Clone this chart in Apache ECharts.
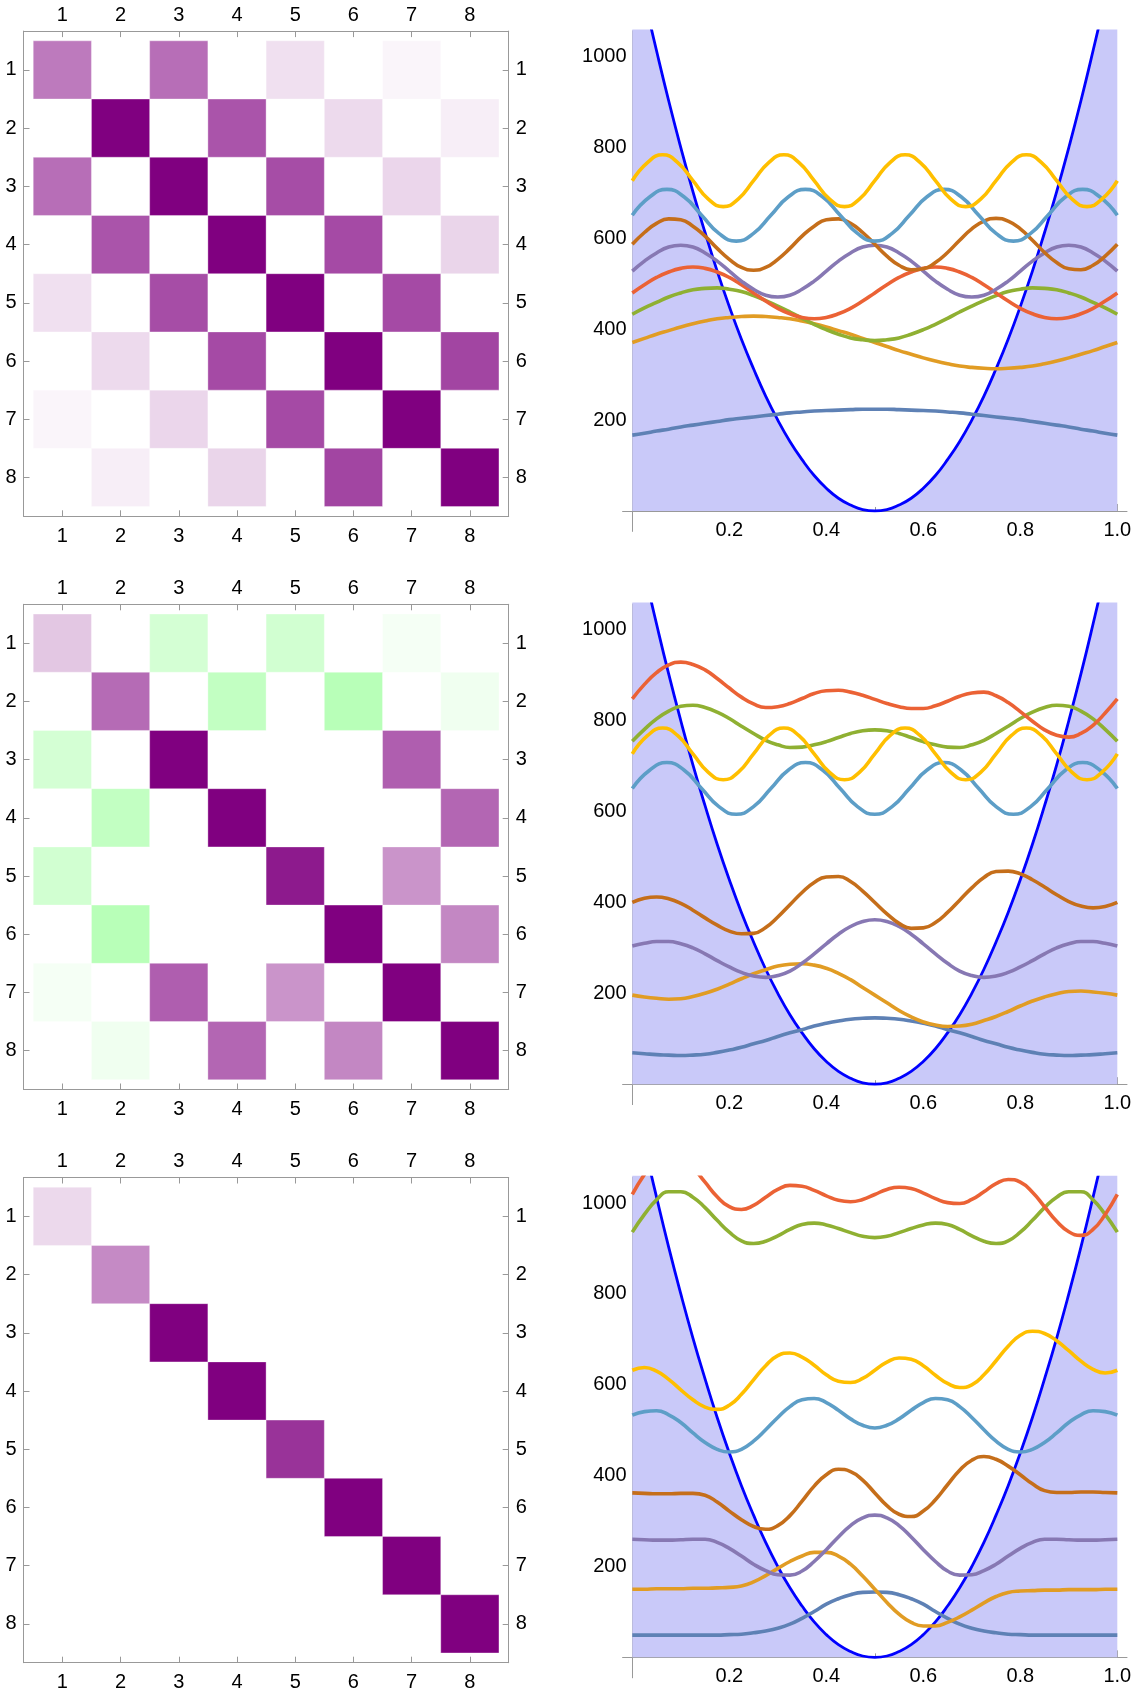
<!DOCTYPE html>
<html>
<head>
<meta charset="utf-8">
<title>Box basis and eigenstates</title>
<script src="https://cdn.jsdelivr.net/npm/echarts@6.0.0/dist/echarts.min.js"></script>
<style>
  html, body { margin: 0; padding: 0; background: #fff; }
  #main { width: 1137px; height: 1693px; }
</style>
</head>
<body>
<div id="main"></div>
<script>
// positions along the box where the curves were read
var xGrid = [0,0.025,0.05,0.075,0.1,0.125,0.15,0.175,0.2,0.225,0.25,0.275,0.3,0.325,0.35,0.375,0.4,0.425,0.45,0.475,0.5,
             0.525,0.55,0.575,0.6,0.625,0.65,0.675,0.7,0.725,0.75,0.775,0.8,0.825,0.85,0.875,0.9,0.925,0.95,0.975,1];
// finer positions for the two fastest box states
var xYellow = [0,0.03125,0.0625,0.09375,0.125,0.15625,0.1875,0.21875,0.25,0.28125,0.3125,0.34375,0.375,0.40625,0.4375,0.46875,0.5,
               0.53125,0.5625,0.59375,0.625,0.65625,0.6875,0.71875,0.75,0.78125,0.8125,0.84375,0.875,0.90625,0.9375,0.96875,1];
var xLightBlue = [0,0.0357,0.0714,0.1071,0.1429,0.1786,0.2143,0.25,0.2857,0.3214,0.3571,0.3929,0.4286,0.4643,0.5,
                  0.5357,0.5714,0.6071,0.6429,0.6786,0.7143,0.75,0.7857,0.8214,0.8571,0.8929,0.9286,0.9643,1];

// the well
var potential = [1250,1128,1013,903,800,703,613,528,450,378,313,253,200,153,113,78,50,28,13,3,0,
                 3,13,28,50,78,113,153,200,253,313,378,450,528,613,703,800,903,1013,1128,1250];

// top row curves
var blueA = [167,171,176,180,185,189,193,197,201,204,207,210,213,216,218,220,221,222,223,224,224,224,223,222,221,220,218,216,213,210,207,204,201,197,193,189,185,180,176,171,167];
var orangeA = [371,380,389,397,405,412,418,423,426,428,429,428,426,423,418,412,405,397,389,380,371,362,353,345,337,330,324,319,316,314,313,314,316,319,324,330,337,345,353,362,371];
var greenA = [433,447,459,471,480,487,490,491,488,483,474,463,451,438,424,411,399,389,381,377,375,377,381,389,399,411,424,438,451,463,474,483,488,491,490,487,480,471,459,447,433];
var redA = [480,498,514,526,534,537,534,526,514,498,480,462,446,434,426,423,426,434,446,462,480,498,514,526,534,537,534,526,514,498,480,462,446,434,426,423,426,434,446,462,480];
var purpleA = [528,550,568,581,585,581,568,550,528,506,488,475,471,475,488,506,528,550,568,581,585,581,568,550,528,506,488,475,471,475,488,506,528,550,568,581,585,581,568,550,528];
var brownA = [587,613,633,643,641,627,605,578,554,536,530,536,554,578,605,627,641,643,633,613,587,561,541,531,533,547,569,596,621,638,644,638,621,596,569,547,533,531,541,561,587];
var lightBlueA = [651,691,708,691,651,611,594,611,651,691,708,691,651,611,594,611,651,691,708,691,651,611,594,611,651,691,708,691,651];
var yellowA = [727,767,784,767,727,687,670,687,727,767,784,767,727,687,670,687,727,767,784,767,727,687,670,687,727,767,784,767,727,687,670,687,727];

// middle row curves (light blue and yellow are the same as the top row)
var blueB = [69,67,65,64,63,64,66,70,75,81,89,96,105,113,120,128,134,139,143,145,146,145,143,139,134,128,120,113,105,96,89,81,75,70,66,64,63,64,65,67,69];
var orangeB = [196,192,189,187,188,193,200,209,220,232,243,252,260,264,265,262,255,244,230,213,196,179,162,148,137,130,127,128,132,140,149,160,172,183,192,199,204,205,203,200,196];
var greenB = [755,781,804,821,832,834,829,819,805,788,772,757,747,741,742,747,754,763,772,778,780,778,772,763,754,747,742,741,747,757,772,788,805,819,829,834,832,821,804,781,755];
var redB = [848,880,906,923,929,924,912,893,872,852,837,829,831,838,849,860,866,867,863,856,847,838,831,827,827,833,843,854,861,863,855,840,820,799,780,768,764,772,790,817,848];
var purpleB = [304,310,314,314,309,300,287,272,258,246,238,235,239,249,266,287,309,330,347,358,362,358,347,330,309,287,266,249,239,235,238,246,258,272,287,300,309,314,314,310,304];
var brownB = [400,409,412,408,398,383,366,350,337,331,332,345,368,395,422,444,456,457,446,425,400,375,354,343,344,356,378,405,432,455,468,469,463,450,434,417,402,392,388,391,400];

// bottom row curves
var blueC = [49,49,49,49,49,49,49,49,50,51,54,58,64,73,86,101,117,129,138,143,144,143,138,129,117,101,86,73,64,58,54,51,50,49,49,49,49,49,49,49,49];
var orangeC = [150,150,151,151,151,152,152,153,154,157,166,180,196,211,223,231,231,223,205,179,150,121,95,77,69,69,77,89,104,120,134,143,146,147,148,148,149,149,149,150,150];
var greenC = [936,975,1007,1025,1025,1013,990,962,936,917,911,916,928,942,953,956,952,944,935,927,924,927,935,944,952,956,953,942,928,916,911,917,936,962,990,1013,1025,1025,1007,975,936];
var redC = [1019,1063,1096,1109,1101,1078,1046,1014,992,986,995,1013,1030,1039,1037,1028,1016,1006,1003,1008,1019,1030,1035,1032,1022,1010,1001,999,1008,1025,1043,1052,1046,1024,992,960,937,929,942,975,1019];
var purpleC = [260,259,258,258,259,260,260,253,240,223,205,191,182,181,190,211,237,265,290,307,313,307,290,265,237,211,190,181,182,191,205,223,240,253,260,260,259,258,258,259,260];
var brownC = [362,361,360,360,361,361,357,342,322,303,288,282,290,312,344,377,402,414,409,390,362,334,315,310,322,347,380,412,434,442,436,421,402,382,367,363,363,364,364,363,362];
var lightBlueC = [533,541,543,534,517,494,473,458,452,458,476,501,528,552,567,570,561,544,525,511,505,511,525,544,561,570,567,552,528,501,476,458,452,458,473,494,517,534,543,541,533];
var yellowC = [632,638,630,612,589,567,551,546,555,579,611,642,664,670,661,643,622,608,605,614,632,650,659,656,642,621,603,594,600,622,653,685,709,718,713,697,675,652,634,626,632];

// matrices (row by row), negative = green
var matA = [
  [0.52,0,0.57,0,0.12,0,0.04,0],
  [0,1,0,0.67,0,0.145,0,0.066],
  [0.57,0,1,0,0.70,0,0.16,0],
  [0,0.67,0,1,0,0.71,0,0.165],
  [0.12,0,0.70,0,1,0,0.71,0],
  [0,0.145,0,0.71,0,1,0,0.73],
  [0.04,0,0.16,0,0.71,0,1,0],
  [0,0.066,0,0.165,0,0.73,0,1]
];
var matB = [
  [0.22,0,-0.17,0,-0.18,0,-0.04,0],
  [0,0.58,0,-0.24,0,-0.28,0,-0.06],
  [-0.17,0,1,0,0,0,0.63,0],
  [0,-0.24,0,1,0,0,0,0.60],
  [-0.18,0,0,0,0.9,0,0.42,0],
  [0,-0.28,0,0,0,1,0,0.47],
  [-0.04,0,0.63,0,0.42,0,1,0],
  [0,-0.06,0,0.60,0,0.47,0,1]
];
var matC = [
  [0.15,0,0,0,0,0,0,0],
  [0,0.46,0,0,0,0,0,0],
  [0,0,1,0,0,0,0,0],
  [0,0,0,1,0,0,0,0],
  [0,0,0,0,0.8,0,0,0],
  [0,0,0,0,0,1,0,0],
  [0,0,0,0,0,0,1,0],
  [0,0,0,0,0,0,0,1]
];

var matrixTicks = [1,2,3,4,5,6,7,8];
var xMajor = [0.2,0.4,0.6,0.8,1.0];
var xMinor = [0.05,0.1,0.15,0.25,0.3,0.35,0.45,0.5,0.55,0.65,0.7,0.75,0.85,0.9,0.95];
var yMajor = [200,400,600,800,1000];
var yMinor = [50,100,150,250,300,350,450,500,550,650,700,750,850,900,950,1050];

var palette = ['#5e81b5','#e19c24','#8fb032','#eb6235','#8778b3','#c56e1a','#5d9ec7','#ffbf00'];

var panels = [
  {matrix: matA, curves: [[xGrid, blueA], [xGrid, orangeA], [xGrid, greenA], [xGrid, redA],
                          [xGrid, purpleA], [xGrid, brownA], [xLightBlue, lightBlueA], [xYellow, yellowA]]},
  {matrix: matB, curves: [[xGrid, blueB], [xGrid, orangeB], [xGrid, greenB], [xGrid, redB],
                          [xGrid, purpleB], [xGrid, brownB], [xLightBlue, lightBlueA], [xYellow, yellowA]]},
  {matrix: matC, curves: [[xGrid, blueC], [xGrid, orangeC], [xGrid, greenC], [xGrid, redC],
                          [xGrid, purpleC], [xGrid, brownC], [xGrid, lightBlueC], [xGrid, yellowC]]}
];

var ROW = 573.2;
var axisGray = '#999999';
var labelFont = {color: '#000', fontSize: 20, fontFamily: 'Liberation Sans, Arial, sans-serif'};
var matrixMargin = {top: 6, bottom: 10, left: 7, right: 7};

function label(extra) {
    return Object.assign({}, labelFont, extra);
}

function matrixAxis(gi, pos, isY) {
    return {
        gridIndex: gi, type: 'value', position: pos,
        min: 0.333, max: 8.667, inverse: isY,
        axisLine: {onZero: false, lineStyle: {color: axisGray, width: 1}},
        axisTick: {inside: true, length: 6, customValues: matrixTicks, lineStyle: {color: axisGray}},
        axisLabel: label({customValues: matrixTicks, margin: matrixMargin[pos]}),
        splitLine: {show: false}
    };
}

// labels of onZero axes are laid out from the grid edge, hence the negative margins
function plotAxis(gi, isY, major) {
    var ticks = isY ? (major ? yMajor : yMinor) : (major ? xMajor : xMinor);
    return {
        gridIndex: gi, type: 'value', position: isY ? 'left' : 'bottom',
        min: isY ? -45 : -0.02, max: isY ? 1057 : 1.02,
        axisLine: {show: major, onZero: true, lineStyle: {color: axisGray, width: 1}},
        axisTick: {inside: true, length: major ? 7 : 4, customValues: ticks, lineStyle: {color: axisGray}},
        axisLabel: major ? label({
            customValues: ticks, margin: isY ? -4 : -11,
            formatter: function (v) { return isY ? String(v) : v.toFixed(1); }
        }) : {show: false},
        splitLine: {show: false}
    };
}

function renderCell(params, api) {
    var c = api.value(0), r = api.value(1);
    var p0 = api.coord([c - 0.5, r - 0.5]);
    var p1 = api.coord([c + 0.5, r + 0.5]);
    return {
        type: 'rect',
        shape: {
            x: Math.min(p0[0], p1[0]), y: Math.min(p0[1], p1[1]),
            width: Math.abs(p1[0] - p0[0]), height: Math.abs(p1[1] - p0[1])
        },
        style: {fill: api.visual('color'), stroke: 'rgba(255,255,255,0.35)', lineWidth: 1}
    };
}

var grids = [], xAxes = [], yAxes = [], series = [], matrixSeries = [];

panels.forEach(function (p, r) {
    var off = r * ROW;

    // left: matrix
    var gm = grids.length;
    grids.push({left: 23.5, top: 31.1 + off, width: 485.2, height: 485.2, outerBoundsMode: 'none'});
    var xb = xAxes.length;
    xAxes.push(matrixAxis(gm, 'bottom', false), matrixAxis(gm, 'top', false));
    var yl = yAxes.length;
    yAxes.push(matrixAxis(gm, 'left', true), matrixAxis(gm, 'right', true));
    var cells = [];
    p.matrix.forEach(function (row, i) {
        row.forEach(function (v, j) {
            if (v !== 0) cells.push([j + 1, i + 1, v]);
        });
    });
    matrixSeries.push(series.length);
    series.push({
        type: 'custom', xAxisIndex: xb, yAxisIndex: yl,
        encode: {x: 0, y: 1},
        renderItem: renderCell,
        data: cells,
        silent: true
    });

    // right: well with the states
    var gp = grids.length;
    grids.push({left: 622.6, top: 30.8 + off, width: 504.4, height: 500.6, outerBoundsMode: 'none'});
    var xm = xAxes.length;
    xAxes.push(plotAxis(gp, false, true), plotAxis(gp, false, false));
    var ym = yAxes.length;
    yAxes.push(plotAxis(gp, true, true), plotAxis(gp, true, false));

    series.push({
        type: 'line', xAxisIndex: xm, yAxisIndex: ym,
        data: xGrid.map(function (x, i) { return [x, potential[i]]; }),
        smooth: true, symbol: 'none', silent: true,
        lineStyle: {color: '#0000ff', width: 2.8},
        areaStyle: {color: '#c9c9f9', opacity: 1, origin: 'auto'},
        z: 2
    });
    p.curves.forEach(function (c, k) {
        var xs = c[0], ys = c[1];
        series.push({
            type: 'line', xAxisIndex: xm, yAxisIndex: ym,
            data: xs.map(function (x, i) { return [x, ys[i]]; }),
            smooth: true, symbol: 'none', silent: true,
            lineStyle: {color: palette[k], width: 3.6},
            itemStyle: {color: palette[k]},
            z: 3
        });
    });
});

var chart = echarts.init(document.getElementById('main'), null, {renderer: 'canvas'});
chart.setOption({
    backgroundColor: '#ffffff',
    animation: false,
    grid: grids,
    xAxis: xAxes,
    yAxis: yAxes,
    visualMap: {
        type: 'continuous', show: false, min: -1, max: 1, dimension: 2,
        seriesIndex: matrixSeries,
        inRange: {color: ['#00ff00', '#ffffff', '#800080']}
    },
    series: series
});
window.onresize = chart.resize;
</script>
</body>
</html>
